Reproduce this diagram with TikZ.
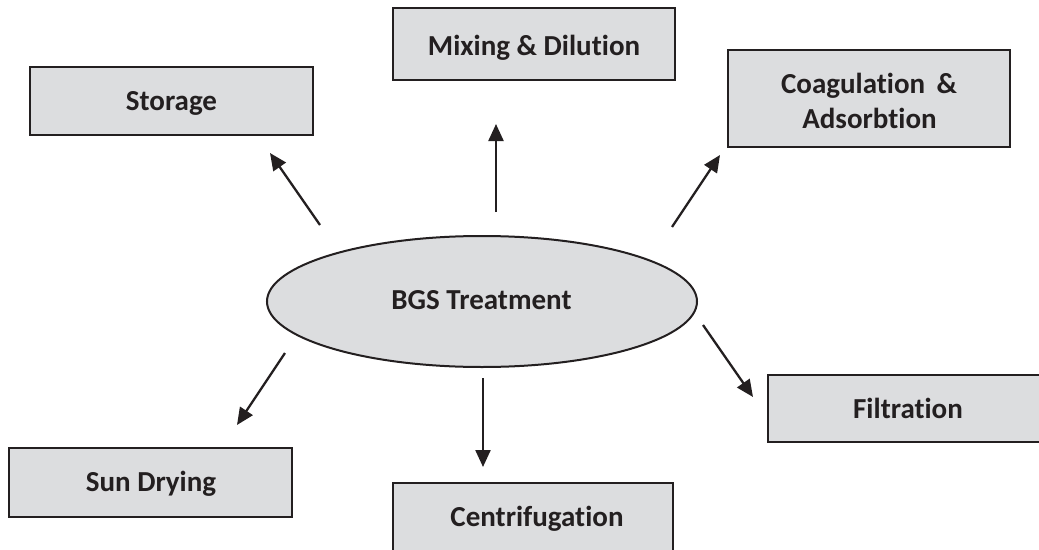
\documentclass[tikz,border=0pt]{standalone}
\usepackage{fontspec}
\setmainfont[RawFeature={-liga}]{Carlito}
\usetikzlibrary{arrows.meta,shapes.geometric}
\definecolor{boxfill}{HTML}{DCDDDF}
\definecolor{ink}{HTML}{231F20}
\tikzset{
  procbox/.style={draw=ink, line width=2.6pt, fill=boxfill, inner sep=0pt, outer sep=0pt},
  lbl/.style={anchor=base, inner sep=0pt, font=\fontsize{29}{35}\selectfont\bfseries, text=ink, align=center},
  arr/.style={draw=ink, line width=2.3pt, -{Triangle[length=17pt,width=15pt]}}
}
\begin{document}
\begin{tikzpicture}[x=1pt,y=-1pt]
\useasboundingbox (0,0) rectangle (1039,549);
\clip (0,0) rectangle (1039,549);
% boxes
\node[procbox, minimum width=282pt, minimum height=72pt] (mix) at (534,44) {};
\node[procbox, minimum width=283pt, minimum height=68pt] (sto) at (171.5,101) {};
\node[procbox, minimum width=282pt, minimum height=97pt] (coa) at (869,98.5) {};
\node[procbox, minimum width=280pt, minimum height=67pt] (fil) at (908,408.5) {};
\node[procbox, minimum width=283pt, minimum height=69pt] (sun) at (150.5,482.5) {};
\node[procbox, minimum width=280pt, minimum height=90pt] (cen) at (533,528) {};
\node[ellipse, draw=ink, line width=2pt, fill=boxfill, minimum width=430pt, minimum height=131pt, inner sep=0pt] (bgs) at (482,301.5) {};
% labels
\node[lbl] (tmix) at (534,55) {Mixing \& Dilution};
\node[lbl] (tsto) at (171.5,110) {Storage};
\node[lbl] (tcoa1) at (869,93) {Coagulation \,\&};
\node[lbl] (tcoa2) at (869.5,128) {Adsorbtion};
\node[lbl] (tfil) at (908,418) {Filtration};
\node[lbl] (tsun) at (151,491) {Sun Drying};
\node[lbl] (tcen) at (537,526) {Centrifugation};
\node[lbl] (tbgs) at (481.5,309) {BGS Treatment};
% arrow end points
\coordinate (s1) at (320,225); \coordinate (e1) at (270,153);
\coordinate (s2) at (496,212); \coordinate (e2) at (496,124);
\coordinate (s3) at (672,227); \coordinate (e3) at (720,155);
\coordinate (s4) at (703,325); \coordinate (e4) at (753,397);
\coordinate (s5) at (483,378); \coordinate (e5) at (483,467);
\coordinate (s6) at (285,353); \coordinate (e6) at (237,425);
\draw[arr] (s1) -- (e1);
\draw[arr] (s2) -- (e2);
\draw[arr] (s3) -- (e3);
\draw[arr] (s4) -- (e4);
\draw[arr] (s5) -- (e5);
\draw[arr] (s6) -- (e6);
\end{tikzpicture}
\end{document}
